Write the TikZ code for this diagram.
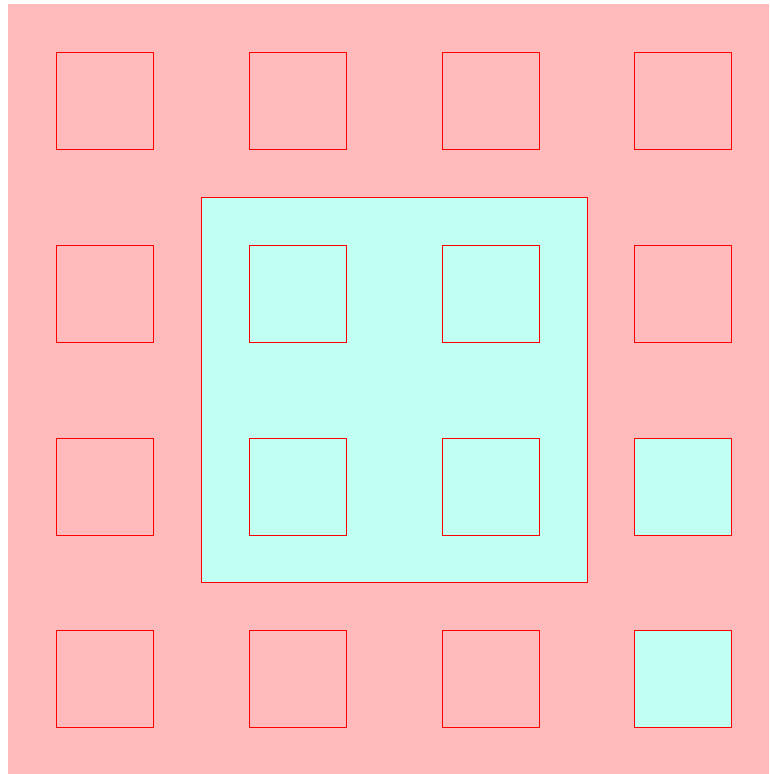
\documentclass[tikz,border=0pt]{standalone}
\definecolor{bgpink}{RGB}{255,187,187}
\definecolor{lightcyan}{RGB}{192,255,242}
\begin{document}
\begin{tikzpicture}[x=1pt,y=1pt]
 \useasboundingbox (0,0) rectangle (769,774);
 \begin{scope}
 \fill[bgpink] (8,0) rectangle (769,770);
 \draw[red, fill=lightcyan, line width=0.9pt] (201,192) rectangle (587,577);
 \foreach \x in {56,249,442,634}
  \foreach \y in {47,239,432,625}
   \draw[red, line width=0.9pt] (\x,\y) rectangle ++(97,97);
 \draw[red, fill=lightcyan, line width=0.9pt] (634,239) rectangle ++(97,97);
 \draw[red, fill=lightcyan, line width=0.9pt] (634,47) rectangle ++(97,97);
 \end{scope}
\end{tikzpicture}
\end{document}
